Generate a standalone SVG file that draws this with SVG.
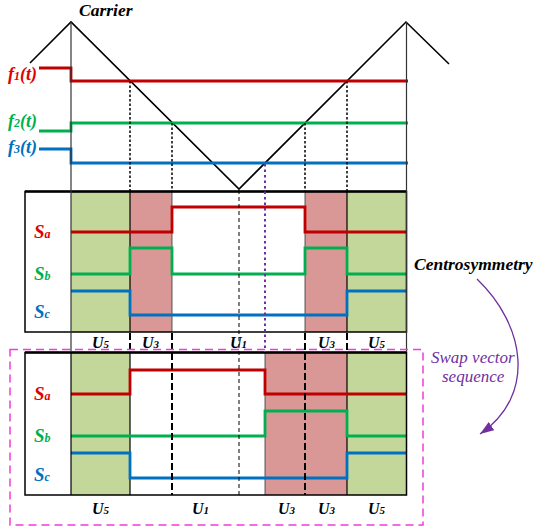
<svg xmlns="http://www.w3.org/2000/svg" width="533" height="529" viewBox="0 0 533 529">
<defs>
<style>
.t{font-family:"Liberation Serif","Times New Roman",serif;font-weight:bold;font-style:italic;}
.sig{fill:none;stroke-width:2.8;stroke-linejoin:miter;}
.r{stroke:#C00000;} .g{stroke:#00B050;} .b{stroke:#0070C0;}
.gf{fill:#C4D79B;} .rf{fill:#D99795;}
.frame{fill:none;stroke:#000;stroke-width:1.5;}
.dot{stroke:#000;stroke-width:1.5;stroke-dasharray:2.5,2;fill:none;}
.dash{stroke:#000;stroke-width:2;stroke-dasharray:7,3;fill:none;}
.thin{stroke:#000;stroke-width:1;stroke-dasharray:4,3;fill:none;}
.vl{stroke:#333;stroke-width:1.2;fill:none;}
</style>
<marker id="arr" viewBox="0 0 14 10" refX="14" refY="5" markerWidth="14" markerHeight="10" markerUnits="userSpaceOnUse" orient="auto">
<path d="M0,0 L14,5 L0,10 Z" fill="#7030A0"/>
</marker>
</defs>
<rect width="533" height="529" fill="#fff"/>

<g id="carrier">
<path d="M30,63 L71,22 L239,189 L406,22 L449,64" fill="none" stroke="#000" stroke-width="1.6"/>
<text class="t" x="79" y="16" font-size="17.5" fill="#000">Carrier</text>
</g>

<g id="references">
<path class="sig r" d="M39,68 H71 V81 H408"/>
<path class="sig g" d="M39,131 H71 V123 H408"/>
<path class="sig b" d="M39,149 H71 V163 H408"/>
<text class="t" x="8" y="80" font-size="18" fill="#E00000">f<tspan font-size="12">1</tspan>(t)</text>
<text class="t" x="8" y="127" font-size="18" fill="#00B050">f<tspan font-size="12">2</tspan>(t)</text>
<text class="t" x="8" y="153" font-size="18" fill="#0070C0">f<tspan font-size="12">3</tspan>(t)</text>
</g>

<g id="panel-top">
<rect class="gf" x="71" y="192" width="59" height="140"/>
<rect class="rf" x="130" y="192" width="42" height="140"/>
<rect class="rf" x="305" y="192" width="42" height="140"/>
<rect class="gf" x="347" y="192" width="59.5" height="140"/>
<line x1="130" y1="192" x2="130" y2="332" stroke="#000" stroke-width="1.2"/>
<line x1="172" y1="192" x2="172" y2="332" stroke="#333" stroke-width="0.8"/>
<line x1="305" y1="192" x2="305" y2="332" stroke="#333" stroke-width="0.8"/>
<line x1="347" y1="192" x2="347" y2="332" stroke="#000" stroke-width="1.2"/>
<path class="sig r" d="M71,232 H172 V207 H305 V232 H406"/>
<path class="sig g" d="M71,274 H130 V248 H172 V274 H305 V248 H347 V274 H406"/>
<path class="sig b" d="M71,291 H130 V315 H347 V291 H406"/>
<rect class="frame" x="25" y="191.5" width="381.5" height="140.5"/>
<line x1="25" y1="191.5" x2="407" y2="191.5" stroke="#000" stroke-width="2.5"/>
<text class="t" x="34" y="238" font-size="19" fill="#E00000">S<tspan font-size="12">a</tspan></text>
<text class="t" x="34" y="280" font-size="19" fill="#00B050">S<tspan font-size="12">b</tspan></text>
<text class="t" x="34" y="318" font-size="19" fill="#0070C0">S<tspan font-size="12">c</tspan></text>
<text class="t" x="92" y="348" font-size="16">U<tspan font-size="11">5</tspan></text>
<text class="t" x="142" y="348" font-size="16">U<tspan font-size="11">3</tspan></text>
<text class="t" x="230" y="348" font-size="16">U<tspan font-size="11">1</tspan></text>
<text class="t" x="318" y="348" font-size="16">U<tspan font-size="11">3</tspan></text>
<text class="t" x="368" y="348" font-size="16">U<tspan font-size="11">5</tspan></text>
</g>

<g id="panel-bottom">
<rect class="gf" x="71" y="353" width="59" height="142"/>
<rect class="rf" x="265" y="353" width="82" height="142"/>
<rect class="gf" x="347" y="353" width="59.5" height="142"/>
<line x1="130" y1="353" x2="130" y2="495" stroke="#000" stroke-width="1.2"/>
<line x1="265" y1="353" x2="265" y2="495" stroke="#333" stroke-width="0.8"/>
<line x1="347" y1="353" x2="347" y2="495" stroke="#000" stroke-width="1.2"/>
<path class="sig r" d="M71,394 H130 V370 H265 V394 H407"/>
<path class="sig g" d="M71,436 H265 V411 H347 V436 H407"/>
<path class="sig b" d="M71,453 H130 V478 H347 V453 H407"/>
<rect class="frame" x="25" y="352.5" width="381.5" height="142.5"/>
<line x1="25" y1="352.5" x2="407" y2="352.5" stroke="#000" stroke-width="2.5"/>
<line x1="71" y1="352" x2="71" y2="495" stroke="#000" stroke-width="1.2"/>
<text class="t" x="34" y="400" font-size="19" fill="#E00000">S<tspan font-size="12">a</tspan></text>
<text class="t" x="34" y="442" font-size="19" fill="#00B050">S<tspan font-size="12">b</tspan></text>
<text class="t" x="34" y="481" font-size="19" fill="#0070C0">S<tspan font-size="12">c</tspan></text>
<text class="t" x="92" y="514" font-size="16">U<tspan font-size="11">5</tspan></text>
<text class="t" x="192" y="514" font-size="16">U<tspan font-size="11">1</tspan></text>
<text class="t" x="278" y="514" font-size="16">U<tspan font-size="11">3</tspan></text>
<text class="t" x="318" y="514" font-size="16">U<tspan font-size="11">3</tspan></text>
<text class="t" x="368" y="514" font-size="16">U<tspan font-size="11">5</tspan></text>
</g>

<g id="connectors">
<line class="vl" x1="71" y1="22" x2="71" y2="352"/>
<line class="vl" x1="406.5" y1="22" x2="406.5" y2="352"/>
<line class="dot" x1="130" y1="81" x2="130" y2="191"/>
<line class="dot" x1="172" y1="123" x2="172" y2="191"/>
<line class="dot" x1="305" y1="123" x2="305" y2="191"/>
<line class="dot" x1="347" y1="81" x2="347" y2="191"/>
<line class="dash" x1="130" y1="333" x2="130" y2="352"/>
<line class="dash" x1="172" y1="333" x2="172" y2="495"/>
<line class="dash" x1="305" y1="333" x2="305" y2="495"/>
<line class="dash" x1="347" y1="333" x2="347" y2="352"/>
<line class="thin" x1="239" y1="190" x2="239" y2="495"/>
<line x1="265" y1="164" x2="265" y2="352" stroke="#7030A0" stroke-width="2" stroke-dasharray="2.5,3"/>
</g>

<g id="swap-box">
<rect x="10" y="349.5" width="413" height="175.5" fill="none" stroke="#F03CDC" stroke-width="1.5" stroke-dasharray="8,5"/>
</g>

<g id="annotation">
<text class="t" x="414" y="270" font-size="17.5" fill="#000">Centrosymmetry</text>
<path d="M477,279 C525,325 537,395 480,434" fill="none" stroke="#7030A0" stroke-width="1.3" marker-end="url(#arr)"/>
<text x="431" y="363" font-family="'Liberation Serif','Times New Roman',serif" font-style="italic" font-size="17" fill="#7030A0">Swap vector</text>
<text x="442" y="382" font-family="'Liberation Serif','Times New Roman',serif" font-style="italic" font-size="17" fill="#7030A0">sequence</text>
</g>
</svg>
